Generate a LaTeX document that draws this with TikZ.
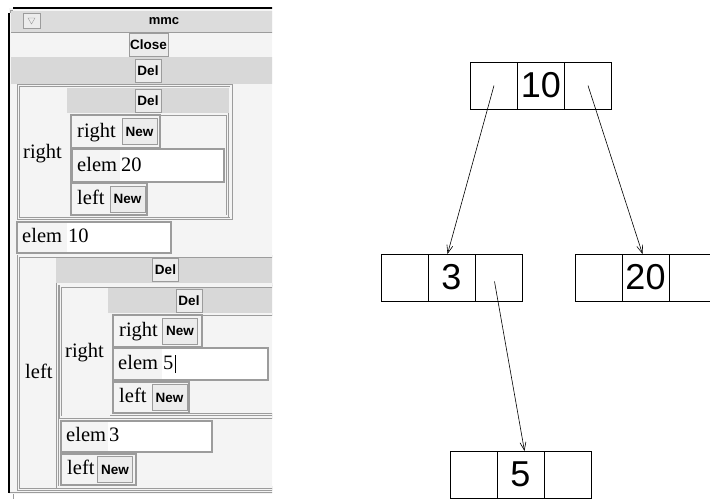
\documentclass[tikz,border=0pt]{standalone}
\usepackage{fontspec}
\setmainfont{Liberation Serif}
\newfontfamily\guisans{Liberation Sans}
\usetikzlibrary{positioning,arrows.meta}

\definecolor{winbg}{HTML}{F4F4F4}
\definecolor{titlebg}{HTML}{DCDCDC}
\definecolor{barbg}{HTML}{D8D8D8}
\definecolor{rimgray}{HTML}{9C9C9C}
\definecolor{btnbg}{HTML}{ECECEC}

\begin{document}
\begin{tikzpicture}[x=1pt, y=-1pt, >={Straight Barb[length=8pt,width=6pt]},
  tkbtn/.style={draw=rimgray, fill=btnbg, line width=1pt, inner sep=0pt,
    minimum height=23pt, font=\guisans\bfseries\fontsize{13.5}{15}\selectfont},
  tklabel/.style={inner sep=0pt, anchor=base west, font=\fontsize{20.5}{24}\selectfont},
  tkframe/.style={draw=rimgray, double=winbg, double distance=1.3pt, line width=0.85pt},
  tkrow/.style={draw=rimgray, line width=1.2pt},
  tkentry/.style={draw=rimgray, line width=1.4pt},
  cell/.style={draw, line width=0.9pt, minimum width=47pt, minimum height=47pt,
    inner sep=0pt, outer sep=0pt, font=\guisans\fontsize{36}{40}\selectfont}]

\clip (0,0) rectangle (710,499);

% ==== WINDOW ====
\begin{scope}
\clip (0,0) rectangle (272,499);
\fill[winbg] (9,8) rectangle (290,494);
\fill[titlebg] (11,11) rectangle (290,32);
\draw[rimgray] (11,32.5) -- (290,32.5);
\fill[barbg] (11,57) rectangle (290,84);

\node[tkbtn, minimum width=17pt, minimum height=15pt] (menubtn) at (31.5,20.5) {};
\draw[rimgray] ([shift={(-3.5,-2.5)}]menubtn.center) -- ([shift={(3.5,-2.5)}]menubtn.center)
  -- ([shift={(0,3.5)}]menubtn.center) -- cycle;
\node[font=\guisans\bfseries\fontsize{13}{15}\selectfont] (title) at (164,21.5) {mmc};
\node[tkbtn, minimum width=39pt] (close) at (148.5,45) {Close};
\node[tkbtn, minimum width=26pt] (del0) at (148,70.5) {Del};

% ==== RIGHT PANEL (20) ====
\draw[tkframe] (18.5,85.5) rectangle (231,218.5);
\node[tklabel] (rlab0) at (23,158) {right};
\fill[barbg] (67,87.5) rectangle (229,113);
\node[tkbtn, minimum width=26pt] (del1) at (148,100.5) {Del};
\draw[tkframe] (69,114) rectangle (227.5,216);

% ==== LEFT PANEL (3) ====
\draw[tkframe] (18.5,256) rectangle (290,489.5);
\node[tklabel] (llab0) at (25,378) {left};
\fill[barbg] (56,257.5) rectangle (290,283);
\node[tkbtn, minimum width=26pt] (del2) at (165.5,270) {Del};
\draw[tkframe] (57.5,284) rectangle (290,487);
\draw[tkframe] (60.5,286) rectangle (290,417);
\node[tklabel] (rlab1) at (65,357) {right};
\fill[barbg] (108,288) rectangle (290,313);
\node[tkbtn, minimum width=26pt] (del3) at (189,300.5) {Del};
\draw[tkframe] (111,314) rectangle (290,414.5);

% ==== ENTRIES ====
\foreach \n/\xl/\xm/\xr/\yt/\yb in {20/72/120/224/149/182, 10/17/67/171/222/253,
    5/113/162/268/348/380, 3/61/108/212/421/452}{
  \draw[tkentry, fill=winbg] (\xl,\yt) rectangle (\xr,\yb);
  \fill[white] (\xm,\yt+1) rectangle (\xr-1,\yb-1);
  \node[tklabel] (elem\n) at (\xl+5,\yb-11) {elem};
  \node[tklabel] (val\n) at (\xm+1,\yb-11) {\n};
}
\draw[line width=1.3pt] ([shift={(1.5,4)}]val5.base east) -- ++(0,-18);

% ==== ROWS WITH NEW ====
\foreach \n/\xl/\xr/\yt/\yb/\t/\bx in {ra/71/160/115/148/right/139.5,
    la/71/147/183/215/left/127.5, rc/113/202/315/347/right/180,
    lc/113/189/382/413/left/169.5, lb/61/136/454/485/left/115}{
  \draw[tkrow] (\xl,\yt) rectangle (\xr,\yb);
  \node[tklabel] (lab\n) at (\xl+6,\yb-11) {\t};
  \node[tkbtn, minimum width=35pt, minimum height=26pt] (new\n) at (\bx,{(\yt+\yb)/2}) {New};
}

% ==== BORDER ====
\draw[line width=2.2pt] (9,13) -- (9,493);
\draw[line width=2pt] (13,8) -- (290,8);
\draw[rimgray] (10.5,13) -- (10.5,10.5) -- (13,10.5);
\draw[rimgray, line width=1pt] (10,492.5) -- (290,492.5);
\draw[rimgray] (13,494) -- (13,499);
\end{scope}

% ==== TREE ====
\node[cell] (n10l) at (494,85.5) {};
\node[cell, right=0pt of n10l] (n10) {10};
\node[cell, right=0pt of n10] (n10r) {};

\node[cell] (n3l) at (404.5,277.5) {};
\node[cell, right=0pt of n3l] (n3) {3};
\node[cell, right=0pt of n3] (n3r) {};

\node[cell] (n20l) at (598.5,277.5) {};
\node[cell, right=0pt of n20l] (n20) {20};
\node[cell, right=0pt of n20] (n20r) {};

\node[cell] (n5l) at (473.5,474.5) {};
\node[cell, right=0pt of n5l] (n5) {5};
\node[cell, right=0pt of n5] (n5r) {};

\draw[->, line width=0.6pt] (n10l.center) -- ([xshift=-4pt]n3.north);
\draw[->, line width=0.6pt] (n10r.center) -- ([xshift=-3pt]n20.north);
\draw[->, line width=0.6pt] ([shift={(-4,4)}]n3r.center) -- ([xshift=4pt]n5.north);

\end{tikzpicture}
\end{document}
